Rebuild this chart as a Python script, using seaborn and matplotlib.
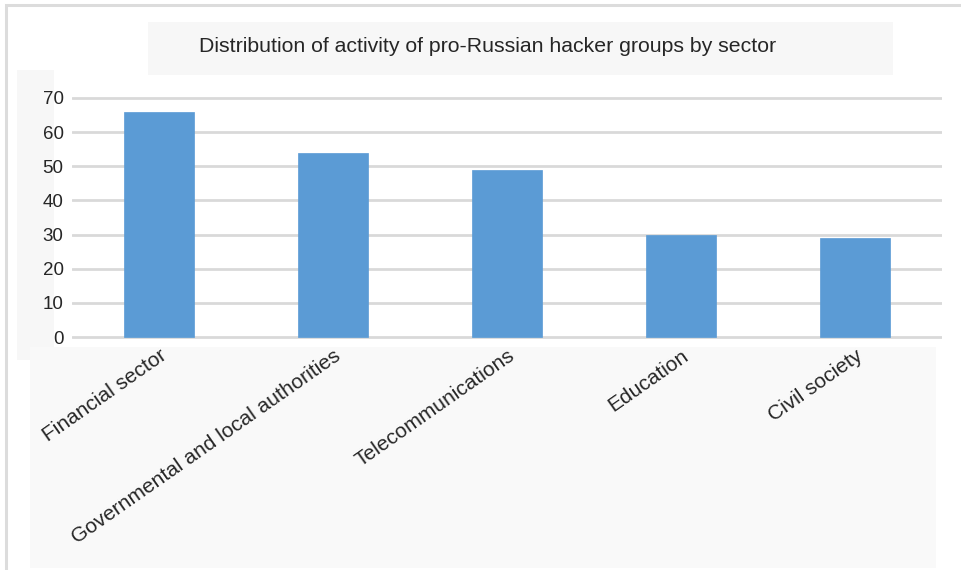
import matplotlib
matplotlib.use("Agg")
import matplotlib.pyplot as plt
import seaborn as sns
import pandas as pd
from matplotlib.patches import Rectangle

categories = ["Financial sector", "Governmental and local authorities",
              "Telecommunications", "Education", "Civil society"]
values = [66, 54, 49, 30, 29]
yticks = [0, 10, 20, 30, 40, 50, 60, 70]
title = "Distribution of activity of pro-Russian hacker groups by sector"

sns.set_theme(style="white")
plt.rcParams['font.family'] = ['Liberation Sans', 'DejaVu Sans']

W, H = 962, 570
fig = plt.figure(figsize=(W / 100, H / 100), dpi=100)
fig.patch.set_facecolor("white")

def frect(x0, y0, x1, y1, **kw):
    r = Rectangle((x0 / W, 1 - y1 / H), (x1 - x0) / W, (y1 - y0) / H,
                  transform=fig.transFigure, zorder=-10, **kw)
    fig.patches.append(r)

# background boxes
frect(6, 5, 975, 585, facecolor="none", edgecolor="#dcdcdc", linewidth=2.2)
frect(148, 22, 893, 75, facecolor="#f7f7f7", edgecolor="none")
frect(17, 70, 54, 360, facecolor="#f7f7f7", edgecolor="none")
frect(30, 347, 936, 568, facecolor="#f9f9f9", edgecolor="none")

fig.text(488 / W, 1 - 47 / H, title, ha="center", va="center",
         fontsize=15.3, color="#262626", zorder=5)

# axes: ylim -1..71, 0 at y=337px, 70 at y=98px
ppu = (337 - 98) / 70.0
top_px = 98 - ppu
bot_px = 337 + ppu
ax = fig.add_axes([72 / W, 1 - bot_px / H, 870 / W, (bot_px - top_px) / H])
ax.patch.set_alpha(0)

df = pd.DataFrame({"sector": categories, "count": values})
sns.barplot(data=df, x="sector", y="count", color="#5b9bd5", width=0.4,
            saturation=1, ax=ax, zorder=3, edgecolor="#5b9bd5", linewidth=0.5)

ax.set_xlim(-0.5, len(categories) - 0.5)
ax.set_ylim(-1, 71)
ax.set_yticks(yticks)
ax.set_yticklabels([str(t) for t in yticks], fontsize=13.5, color="#262626")
ax.grid(axis="y", color="#d9d9d9", linewidth=2, zorder=0)
ax.grid(axis="x", visible=False)
for s in ax.spines.values():
    s.set_visible(False)
ax.tick_params(axis="both", length=0)
ax.tick_params(axis="y", pad=6)
ax.tick_params(axis="x", pad=4)
ax.set_xlabel("")
ax.set_ylabel("")
ax.set_xticks(range(len(categories)))
ax.set_xticklabels(categories, rotation=35, ha="right", va="top",
                   rotation_mode="anchor", fontsize=15, color="#262626")

fig.savefig("out.png", dpi=100)
